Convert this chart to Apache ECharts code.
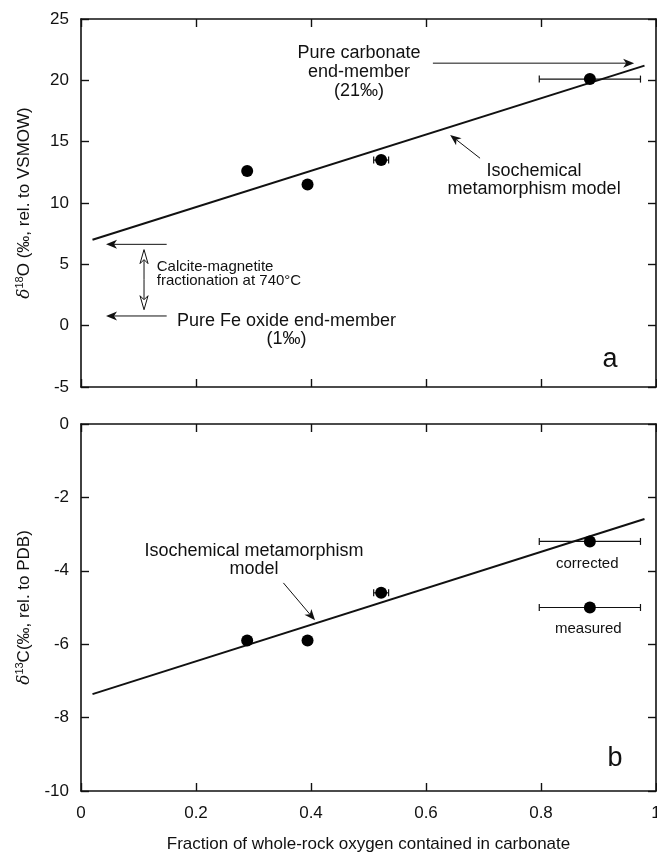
<!DOCTYPE html>
<html>
<head>
<meta charset="utf-8">
<script src="https://cdn.jsdelivr.net/npm/echarts@6/dist/echarts.min.js"></script>
<style>
html,body{margin:0;padding:0;background:#fff;}
#chart{width:657px;height:852px;}
</style>
</head>
<body>
<div id="chart"></div>
<script>
// ---------- data ----------
const xTickValues = [0, 0.2, 0.4, 0.6, 0.8, 1];
const o18YTicks = [-5, 0, 5, 10, 15, 20, 25];
const c13YTicks = [-10, -8, -6, -4, -2, 0];

const o18Fraction = [0.289, 0.394, 0.522, 0.885];
const o18Values   = [12.6, 11.5, 13.5, 20.1];
const o18XErr     = [0, 0, 0.013, 0.088];

const c13Fraction = [0.289, 0.394, 0.522, 0.885, 0.885];
const c13Values   = [-5.9, -5.9, -4.6, -3.2, -5.0];
const c13XErr     = [0, 0, 0.013, 0.088, 0.088];

const o18ModelX = [0.02, 0.98];
const o18ModelY = [7.0, 21.2];
const c13ModelX = [0.02, 0.98];
const c13ModelY = [-7.36, -2.59];

// ---------- annotations (data coordinates) ----------
const FONT = 'Liberation Sans, Arial, Helvetica, sans-serif';
const o18Arrows = [
  [0.612, 21.4, 0.962, 21.4, 0],
  [0.694, 13.65, 0.642, 15.55, 0],
  [0.149, 6.63, 0.0435, 6.63, 0],
  [0.149, 0.79, 0.0435, 0.79, 0],
  [0.1096, 3.75, 0.1096, 6.2, 1],
  [0.1096, 3.75, 0.1096, 1.3, 1]
];
const c13Arrows = [
  [0.352, -4.33, 0.407, -5.35, 0]
];
const o18Notes = [
  {x: 0.4835, y: 20.64, text: 'Pure carbonate\nend-member\n(21‰)', size: 18, align: 'center', lh: 19},
  {x: 0.788, y: 11.91, text: 'Isochemical\nmetamorphism model', size: 18, align: 'center', lh: 18},
  {x: 0.1317, y: 4.24, text: 'Calcite-magnetite\nfractionation at 740°C', size: 15, align: 'left', lh: 14.5},
  {x: 0.3574, y: -0.33, text: 'Pure Fe oxide end-member\n(1‰)', size: 18, align: 'center', lh: 18},
  {x: 0.92, y: -2.77, text: 'a', size: 27, align: 'center', lh: 27}
];
const c13Notes = [
  {x: 0.3009, y: -3.695, text: 'Isochemical metamorphism\nmodel', size: 18, align: 'center', lh: 18},
  {x: 0.8805, y: -3.80, text: 'corrected', size: 15, align: 'center', lh: 15},
  {x: 0.8823, y: -5.59, text: 'measured', size: 15, align: 'center', lh: 15},
  {x: 0.9287, y: -9.11, text: 'b', size: 27, align: 'center', lh: 27}
];

// ---------- render helpers ----------
function arrowRender(params, api) {
  const p1 = api.coord([api.value(0), api.value(1)]);
  const p2 = api.coord([api.value(2), api.value(3)]);
  const hollow = api.value(4) === 1;
  const dx = p2[0] - p1[0], dy = p2[1] - p1[1];
  const len = Math.sqrt(dx * dx + dy * dy) || 1;
  const ux = dx / len, uy = dy / len, nx = -uy, ny = ux;
  const L = hollow ? 14 : 11, W = hollow ? 4 : 4.5, N = hollow ? 4 : 3;
  const left = [p2[0] - ux * L + nx * W, p2[1] - uy * L + ny * W];
  const right = [p2[0] - ux * L - nx * W, p2[1] - uy * L - ny * W];
  const notch = [p2[0] - ux * (L - N), p2[1] - uy * (L - N)];
  return {
    type: 'group',
    children: [
      {type: 'line', shape: {x1: p1[0], y1: p1[1], x2: notch[0], y2: notch[1]},
       style: {stroke: '#111', lineWidth: 1}},
      {type: 'polygon', shape: {points: [p2, left, notch, right]},
       style: hollow ? {fill: '#fff', stroke: '#111', lineWidth: 1} : {fill: '#111'}}
    ]
  };
}
function makeTextRender(notes) {
  return function (params, api) {
    const n = notes[params.dataIndex];
    const p = api.coord([api.value(0), api.value(1)]);
    return {
      type: 'text', x: p[0], y: p[1],
      style: {text: n.text, fontSize: n.size, fontFamily: FONT, fill: '#111',
              align: n.align, verticalAlign: 'middle', lineHeight: n.lh}
    };
  };
}
function errRender(params, api) {
  const x = api.value(0), y = api.value(1), e = api.value(2);
  if (!e) return null;
  const a = api.coord([x - e, y]), b = api.coord([x + e, y]);
  const c = 3.5;
  return {
    type: 'group',
    children: [
      {type: 'line', shape: {x1: a[0], y1: a[1], x2: b[0], y2: b[1]}, style: {stroke: '#111', lineWidth: 1.2}},
      {type: 'line', shape: {x1: a[0], y1: a[1] - c, x2: a[0], y2: a[1] + c}, style: {stroke: '#111', lineWidth: 1.2}},
      {type: 'line', shape: {x1: b[0], y1: b[1] - c, x2: b[0], y2: b[1] + c}, style: {stroke: '#111', lineWidth: 1.2}}
    ]
  };
}

// ---------- axes ----------
const lineStyle = {color: '#111', width: 1.6};
function xAx(grid, pos, showLabels, name) {
  return {
    type: 'value', gridIndex: grid, position: pos, min: xTickValues[0], max: xTickValues[xTickValues.length - 1], interval: 0.2,
    axisLine: {show: true, onZero: false, lineStyle: lineStyle},
    axisTick: {show: true, inside: true, length: 8, lineStyle: {color: '#111', width: 1.4}},
    axisLabel: {show: showLabels, fontSize: 17, fontFamily: FONT, color: '#111', margin: 14},
    splitLine: {show: false},
    name: name || '', nameLocation: 'middle', nameGap: 45,
    nameTextStyle: {fontSize: 17, fontFamily: FONT, color: '#111'}
  };
}
function yAx(grid, pos, ticks, showLabels, name, rich) {
  return {
    type: 'value', gridIndex: grid, position: pos, min: ticks[0], max: ticks[ticks.length - 1], interval: ticks[1] - ticks[0],
    axisLine: {show: true, onZero: false, lineStyle: lineStyle},
    axisTick: {show: true, inside: true, length: 8, lineStyle: {color: '#111', width: 1.4}},
    axisLabel: {show: showLabels, fontSize: 17, fontFamily: FONT, color: '#111', margin: 12},
    splitLine: {show: false},
    name: name || '', nameLocation: 'middle', nameGap: 48,
    nameTextStyle: {fontFamily: FONT, color: '#111', rich: rich}
  };
}
const nameRich = {
  i: {fontSize: 17, fontStyle: 'italic', fontFamily: 'DejaVu Serif, serif', color: '#111', lineHeight: 19, verticalAlign: 'bottom'},
  s: {fontSize: 11, fontFamily: FONT, color: '#111', lineHeight: 19, verticalAlign: 'top'},
  n: {fontSize: 17, fontFamily: FONT, color: '#111', lineHeight: 19, verticalAlign: 'bottom'}
};

const chart = echarts.init(document.getElementById('chart'), null, {renderer: 'canvas'});
chart.setOption({
  backgroundColor: '#fff',
  animation: false,
  grid: [
    {left: 81, right: 1, top: 19, height: 368, outerBoundsMode: 'none', containLabel: false},
    {left: 81, right: 1, top: 424, height: 367, outerBoundsMode: 'none', containLabel: false}
  ],
  xAxis: [
    xAx(0, 'bottom', false),
    xAx(0, 'top', false),
    xAx(1, 'bottom', true, 'Fraction of whole-rock oxygen contained in carbonate'),
    xAx(1, 'top', false)
  ],
  yAxis: [
    yAx(0, 'left', o18YTicks, true, '{i|δ}{s|18}{n|O (‰, rel. to VSMOW)}', nameRich),
    yAx(0, 'right', o18YTicks, false),
    yAx(1, 'left', c13YTicks, true, '{i|δ}{s|13}{n|C(‰, rel. to PDB)}', nameRich),
    yAx(1, 'right', c13YTicks, false)
  ],
  series: [
    {type: 'line', xAxisIndex: 0, yAxisIndex: 0, data: o18ModelX.map((x, i) => [x, o18ModelY[i]]),
     showSymbol: false, lineStyle: {color: '#111', width: 2}, z: 3},
    {type: 'line', xAxisIndex: 2, yAxisIndex: 2, data: c13ModelX.map((x, i) => [x, c13ModelY[i]]),
     showSymbol: false, lineStyle: {color: '#111', width: 2}, z: 3},
    {type: 'custom', xAxisIndex: 0, yAxisIndex: 0, renderItem: errRender,
     data: o18Fraction.map((x, i) => [x, o18Values[i], o18XErr[i]]), z: 4, encode: {x: 0, y: 1}},
    {type: 'custom', xAxisIndex: 2, yAxisIndex: 2, renderItem: errRender,
     data: c13Fraction.map((x, i) => [x, c13Values[i], c13XErr[i]]), z: 4, encode: {x: 0, y: 1}},
    {type: 'scatter', xAxisIndex: 0, yAxisIndex: 0, symbolSize: 12, itemStyle: {color: '#000', opacity: 1},
     data: o18Fraction.map((x, i) => [x, o18Values[i]]), z: 5},
    {type: 'scatter', xAxisIndex: 2, yAxisIndex: 2, symbolSize: 12, itemStyle: {color: '#000', opacity: 1},
     data: c13Fraction.map((x, i) => [x, c13Values[i]]), z: 5},
    {type: 'custom', xAxisIndex: 0, yAxisIndex: 0, renderItem: arrowRender, data: o18Arrows, z: 6,
     encode: {x: [0, 2], y: [1, 3]}, clip: false},
    {type: 'custom', xAxisIndex: 2, yAxisIndex: 2, renderItem: arrowRender, data: c13Arrows, z: 6,
     encode: {x: [0, 2], y: [1, 3]}, clip: false},
    {type: 'custom', xAxisIndex: 0, yAxisIndex: 0, renderItem: makeTextRender(o18Notes),
     data: o18Notes.map(n => [n.x, n.y]), z: 7, encode: {x: 0, y: 1}, clip: false},
    {type: 'custom', xAxisIndex: 2, yAxisIndex: 2, renderItem: makeTextRender(c13Notes),
     data: c13Notes.map(n => [n.x, n.y]), z: 7, encode: {x: 0, y: 1}, clip: false}
  ]
});
</script>
</body>
</html>
